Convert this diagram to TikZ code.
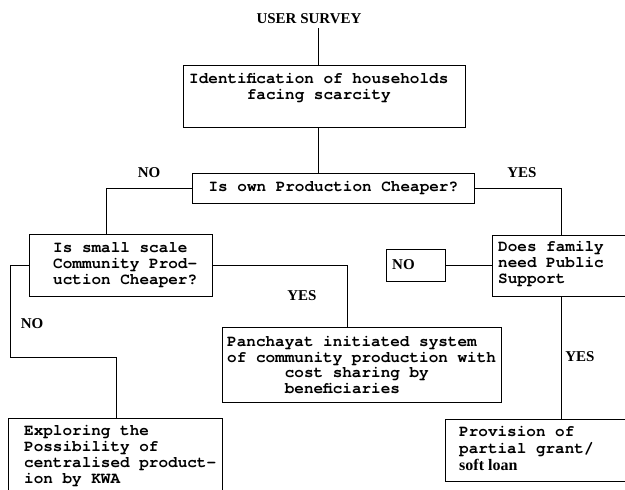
\documentclass[tikz,border=0pt]{standalone}
\usepackage{fontspec}
\setmainfont{Liberation Serif}
\setmonofont{TeX Gyre Cursor}
\begin{document}
\begin{tikzpicture}[x=1pt,y=-1pt,
  box/.style={draw, line width=0.8pt, inner sep=0pt, anchor=north west},
  mono/.style={font=\ttfamily\bfseries\fontsize{16}{15.7}\selectfont, inner sep=0pt, align=left, anchor=west},
  lbl/.style={font=\bfseries\fontsize{15}{16}\selectfont, inner sep=0pt},
  conn/.style={line width=0.8pt}]
\useasboundingbox (0,0) rectangle (625,490);
\clip (0,0) rectangle (625,490);
\fill[white] (0,0) rectangle (625,490);

% boxes
\node[box, minimum width=282pt, minimum height=62pt] (id) at (183,65) {};
\node[box, minimum width=282pt, minimum height=30pt] (q) at (192,173) {};
\node[box, minimum width=183pt, minimum height=62pt] (s) at (29,234) {};
\node[box, minimum width=138pt, minimum height=61pt] (d) at (492,235) {};
\node[box, minimum width=59pt, minimum height=32pt] (n) at (386,249) {};
\node[box, minimum width=279pt, minimum height=75pt] (p) at (222,327) {};
\node[box, minimum width=214pt, minimum height=80pt] (e) at (8,418) {};
\node[box, minimum width=185pt, minimum height=62pt] (v) at (445,419) {};

% texts
\node[mono] (idt) at (189,88) {Identification of households\\\phantom{xxxxxx}facing scarcity};
\node[mono, anchor=center] (qt) at (q.center) {Is own Production Cheaper?};
\node[mono] (st) at (53,265) {Is small scale\\Community Prod-\\uction Cheaper?};
\node[mono] (dt) at (498,264) {Does family\\need Public\\Support};
\node[lbl, anchor=west] (nt) at (392,265) {NO};
\node[mono] (pt) at (227,365) {Panchayat initiated system\\of community production with\\\phantom{xxxxxx}cost sharing by\\\phantom{xxxxxx}beneficiaries};
\node[mono] (et) at (24,456) {Exploring the\\Possibility of\\centralised product-\\ion by KWA};
\node[mono, anchor=north west] (vt) at (459,426) {Provision of\\[1.3pt]partial grant/\\[1.3pt]{\rmfamily\bfseries\fontsize{16}{15.7}\selectfont soft loan}};

% labels
\node[lbl] (survey) at (309,19) {USER SURVEY};
\node[lbl] (no1) at (149,173) {NO};
\node[lbl] (yes1) at (522,173) {YES};
\node[lbl] (no2) at (32,324) {NO};
\node[lbl] (yes2) at (302,296) {YES};
\node[lbl] (yes3) at (580,357) {YES};

% connector columns
\coordinate (spine) at (318,0);
\coordinate (sx) at (106,0);
\coordinate (dx) at (561,0);
\coordinate (px) at (347,0);
\coordinate (ex) at (116,0);
\coordinate (lbend) at (10,357);

% connectors
\draw[conn] ([yshift=-4pt]survey.south -| spine) -- (id.north -| spine);
\draw[conn] (id.south -| spine) -- (q.north -| spine);
\draw[conn] (q.west) -| (s.north -| sx);
\draw[conn] (q.east) -| (d.north -| dx);
\draw[conn] (d.south -| dx) -- (v.north -| dx);
\draw[conn] (s.west) -| (lbend) -| (e.north -| ex);
\draw[conn] (s.east) -| (p.north -| px);
\draw[conn] (n.east) -- (n.east -| d.west);
\end{tikzpicture}
\end{document}
